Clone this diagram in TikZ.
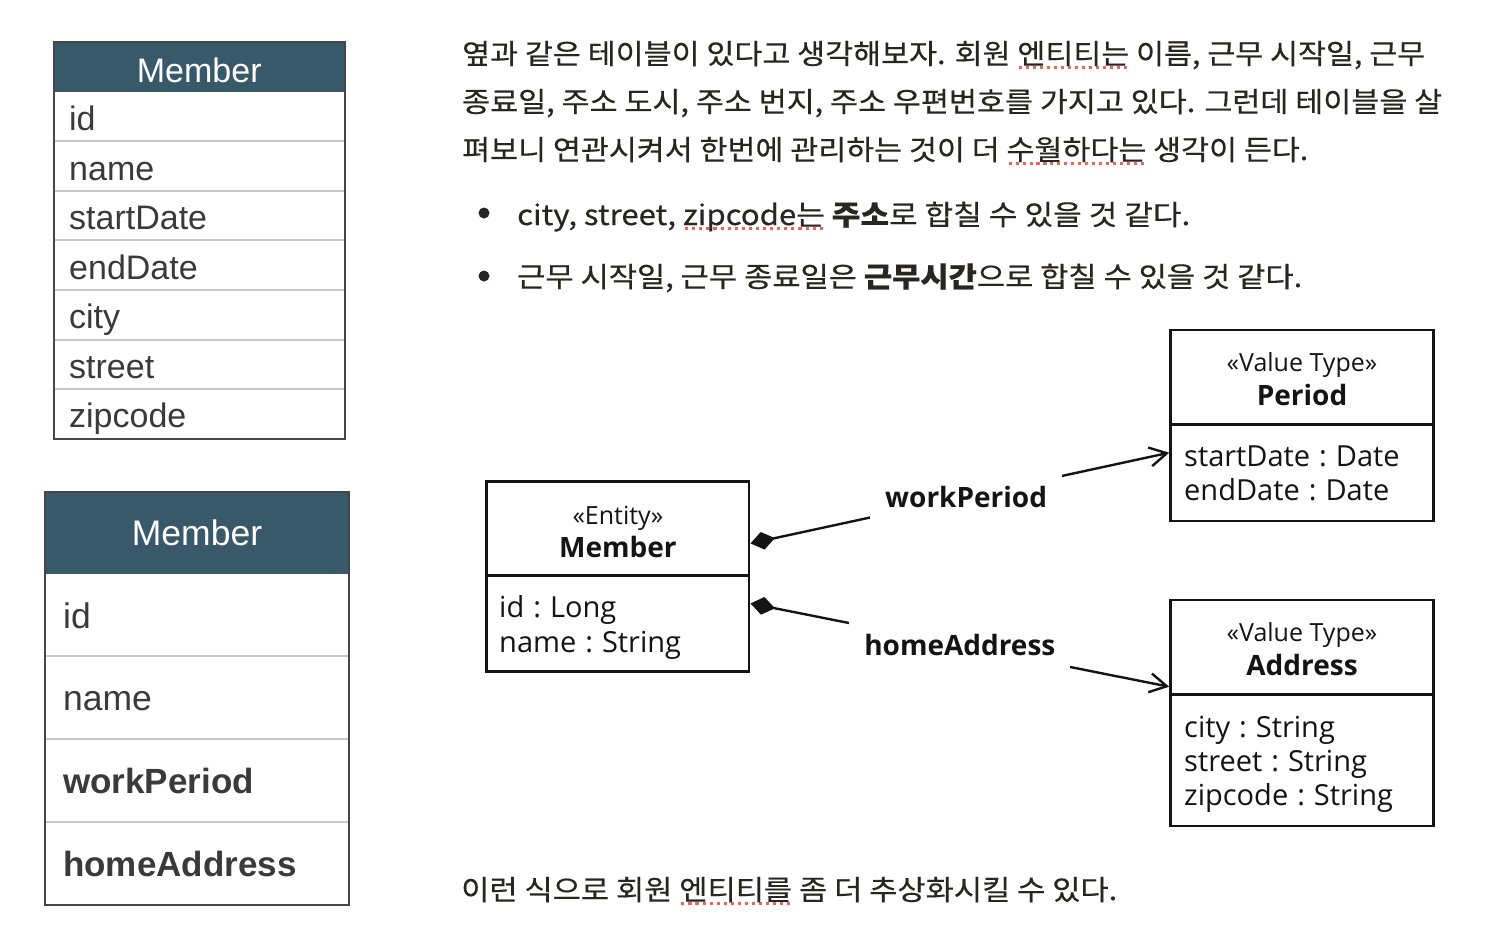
\documentclass[tikz,border=0pt]{standalone}
\usepackage{fontspec}
\usepackage{graphicx}
\usetikzlibrary{arrows.meta}
\setmainfont{Liberation Sans}
\newfontfamily\krf[FakeBold=0.4]{Noto Sans CJK KR}
\newfontfamily\umlf{Open Sans}
\definecolor{hdr}{RGB}{56,89,105}
\definecolor{tabgray}{RGB}{58,58,58}
\definecolor{frame}{RGB}{70,70,70}
\definecolor{rowgray}{RGB}{200,200,200}
\definecolor{ktxt}{RGB}{40,38,34}
\definecolor{spred}{RGB}{236,100,90}
\definecolor{umlink}{RGB}{20,20,20}
\newcommand\spl[1]{\leavevmode\setbox0=\hbox{#1}\rlap{\raisebox{-4.8pt}{\color{spred}\hbox to\wd0{\xleaders\hbox to 6.3pt{\hss\rule{2.8pt}{2.8pt}\hss}\hfill}}}\box0\relax}
\newcommand\cln{\hskip 9pt:\hskip 9pt}
\begin{document}
\begin{tikzpicture}[x=1pt,y=-1pt,
  tabhead/.style={anchor=base, inner sep=0pt, text=white, font=\fontsize{34}{40}\selectfont},
  tabtxt/.style={anchor=base west, inner sep=0pt, text=tabgray, font=\fontsize{34}{40}\selectfont},
  tabtxtb/.style={anchor=base west, inner sep=0pt, text=tabgray, font=\fontsize{35.5}{40}\selectfont},
  rowsep/.style={draw=rowgray, line width=2pt},
  tabframe/.style={draw=frame, line width=2pt},
  kline/.style={anchor=base west, inner sep=0pt, text=ktxt, font=\krf\fontsize{28}{34}\selectfont},
  bulletdot/.style={circle, fill=ktxt, minimum size=11pt, inner sep=0pt},
  umlbox/.style={draw=umlink, line width=2.6pt, rectangle, inner sep=0pt},
  umlline/.style={draw=umlink, line width=2.6pt},
  umltxt/.style={anchor=base west, inner sep=0pt, text=umlink, font=\umlf\fontsize{29}{34}\selectfont},
  stereo/.style={anchor=base, inner sep=0pt, text=umlink, font=\umlf\fontsize{25}{30}\selectfont},
  cname/.style={anchor=base, inner sep=0pt, text=umlink, font=\umlf\bfseries\fontsize{28}{32}\selectfont},
  assoc/.style={draw=umlink, line width=2.4pt, {Diamond[length=25pt,width=18pt]}-{Straight Barb[length=17pt,width=19pt]}},
  lbl/.style={fill=white, text=umlink, font=\umlf\bfseries\fontsize{28}{32}\selectfont, inner xsep=15pt, inner ysep=16pt}
]
\useasboundingbox (0,0) rectangle (1490,938);
\fill[white] (0,0) rectangle (1490,938);

% ---------- Table 1 ----------
\fill[hdr] (53.5,42) rectangle (345,92);
\foreach \yy in {141,191,240,290,340,389} \draw[rowsep] (53.5,\yy) -- (345,\yy);
\draw[tabframe] (53.5,42) rectangle (345,439);
\node[tabhead] (t1h) at (199.25,82) {Member};
\node[tabtxt] (t1a) at (69,130.5) {id};
\node[tabtxt] (t1b) at (69,180) {name};
\node[tabtxt] (t1c) at (69,229.5) {startDate};
\node[tabtxt] (t1d) at (69,279) {endDate};
\node[tabtxt] (t1e) at (69,328.5) {city};
\node[tabtxt] (t1f) at (69,378.5) {street};
\node[tabtxt] (t1g) at (69,427.5) {zipcode};

% ---------- Table 2 ----------
\fill[hdr] (45,491.5) rectangle (349,573.5);
\foreach \yy in {656,739,822} \draw[rowsep] (45,\yy) -- (349,\yy);
\draw[tabframe] (45,491.5) rectangle (349,905);
\node[tabhead, font=\fontsize{35.5}{40}\selectfont] (t2h) at (197,545) {Member};
\node[tabtxtb] (t2a) at (63,628) {id};
\node[tabtxtb] (t2b) at (63,710.5) {name};
\node[tabtxtb, font=\bfseries\fontsize{35}{40}\selectfont] (t2c) at (63,793.5) {workPeriod};
\node[tabtxtb, font=\bfseries\fontsize{35}{40}\selectfont] (t2d) at (63,876.5) {homeAddress};

% ---------- Korean text ----------
\node[kline] (k1) at (462,64) {\resizebox{963pt}{\height}{옆과 같은 테이블이 있다고 생각해보자. 회원 \spl{엔티티는} 이름, 근무 시작일, 근무}};
\node[kline] (k2) at (462,112) {\resizebox{980pt}{\height}{종료일, 주소 도시, 주소 번지, 주소 우편번호를 가지고 있다. 그런데 테이블을 살}};
\node[kline] (k3) at (462,160) {\resizebox{846pt}{\height}{펴보니 연관시켜서 한번에 관리하는 것이 더 \spl{수월하다는} 생각이 든다.}};
\node[bulletdot] (bd1) at (484,213) {};
\node[bulletdot] (bd2) at (484,276) {};
\node[kline] (kb1) at (517,225) {\resizebox{673pt}{\height}{city, street, \spl{zipcode는} {\bfseries 주소}로 합칠 수 있을 것 같다.}};
\node[kline] (kb2) at (517,287) {\resizebox{785pt}{\height}{근무 시작일, 근무 종료일은 {\bfseries 근무시간}으로 합칠 수 있을 것 같다.}};
\node[kline] (k4) at (461,900) {\resizebox{656pt}{\height}{이런 식으로 회원 \spl{엔티티를} 좀 더 추상화시킬 수 있다.}};

% ---------- UML ----------
\node[umlbox, minimum width=262.5pt, minimum height=190pt] (mem) at (617.9,576.7) {};
\draw[umlline] ([yshift=-95pt]mem.north west) -- ([yshift=-95pt]mem.north east);
\node[stereo] (mst) at (617.9,524) {«Entity»};
\node[cname] (mnm) at (617.9,557) {Member};
\node[umltxt] (ma1) at (499,617) {id\cln Long};
\node[umltxt] (ma2) at (499,652) {name\cln String};

\node[umlbox, minimum width=263pt, minimum height=191pt] (per) at (1302,425.5) {};
\draw[umlline] ([yshift=-96pt]per.north west) -- ([yshift=-96pt]per.north east);
\node[stereo] (pst) at (1302,371) {«Value Type»};
\node[cname] (pnm) at (1302,405) {Period};
\node[umltxt] (pa1) at (1184,466.5) {startDate\cln Date};
\node[umltxt] (pa2) at (1184,500.5) {endDate\cln Date};

\node[umlbox, minimum width=263pt, minimum height=226pt] (adr) at (1302,713) {};
\draw[umlline] ([yshift=-96pt]adr.north west) -- ([yshift=-96pt]adr.north east);
\node[stereo] (ast) at (1302,641) {«Value Type»};
\node[cname] (anm) at (1302,675) {Address};
\node[umltxt] (aa1) at (1184,737) {city\cln String};
\node[umltxt] (aa2) at (1184,771) {street\cln String};
\node[umltxt] (aa3) at (1184,805) {zipcode\cln String};

\draw[assoc] ([yshift=-63pt]mem.north east) -- node[lbl, pos=0.515] (lw) {workPeriod} ([yshift=-124pt]per.north west);
\draw[assoc] ([yshift=-123pt]mem.north east) -- node[lbl, pos=0.5] (lh) {homeAddress} ([yshift=-88pt]adr.north west);
\end{tikzpicture}
\end{document}
